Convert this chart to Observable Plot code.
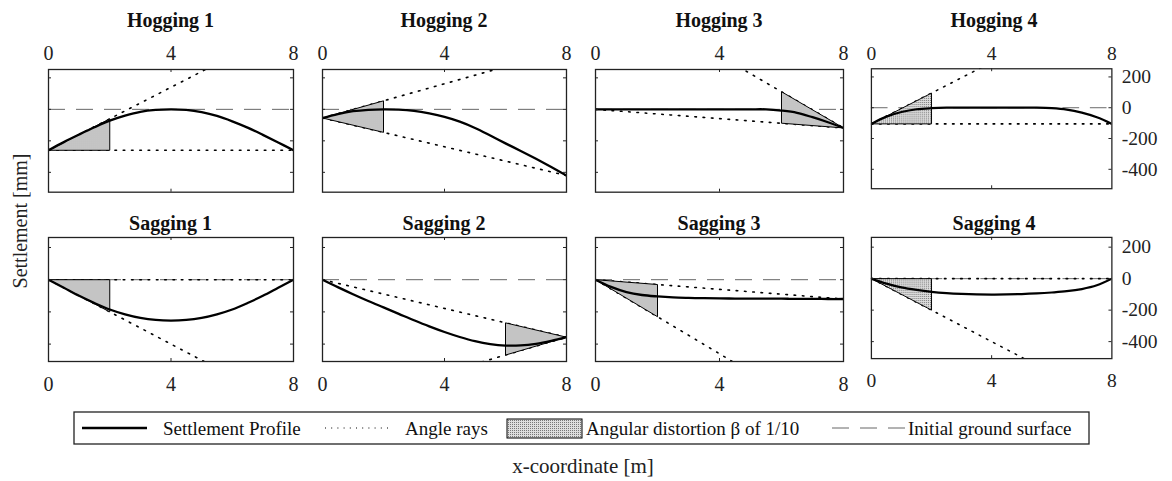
<!DOCTYPE html>
<html><head><meta charset="utf-8">
<script src="https://cdn.jsdelivr.net/npm/d3@7"></script>
<script src="https://cdn.jsdelivr.net/npm/@observablehq/plot@0.6"></script>
<style>
body{margin:0;background:#fff;}
#wrap{position:relative;width:1172px;height:481px;overflow:hidden;font-family:"Liberation Serif",serif;}
.panel{position:absolute;}
#overlay{position:absolute;left:0;top:0;pointer-events:none;}
</style></head><body>
<svg width="0" height="0" style="position:absolute">
<defs><pattern id="stipple" width="2" height="2" patternUnits="userSpaceOnUse">
<rect width="2" height="2" fill="#dedede"/><rect width="1" height="1" fill="#777"/></pattern></defs></svg>
<div id="wrap"></div>
<script>
// ---------- data ----------
const titles = ["Hogging 1","Hogging 2","Hogging 3","Hogging 4","Sagging 1","Sagging 2","Sagging 3","Sagging 4"];
const xTicks = [0, 4, 8];
const yTicks = [200, 0, -200, -400];
const xProfile = [0,0.5,1,1.5,2,2.5,3,3.5,4,4.5,5,5.5,6,6.5,7,7.5,8];
const profileH1 = [-260,-208,-160,-114,-72,-40,-16,-4,0,-4,-18,-42,-76,-116,-162,-210,-260];
const profileH2 = [-55,-30,-12,-3,0,-2,-10,-26,-48,-78,-118,-166,-216,-264,-314,-366,-420];
const profileH3 = [0,0,0,0,0,0,0,0,0,0,0,0,-8,-22,-50,-82,-118];
const profileH4 = [-105,-58,-28,-10,-3,0,0,0,0,0,0,0,-3,-12,-32,-62,-105];
const profileS1 = [0,-50,-100,-145,-185,-215,-237,-250,-254,-250,-237,-215,-185,-145,-100,-50,0];
const profileS2 = [0,-46,-90,-132,-172,-212,-252,-290,-325,-356,-382,-400,-409,-408,-398,-380,-357];
const profileS3 = [0,-45,-77,-95,-104,-110,-113,-115,-116,-117,-117,-118,-118,-119,-119,-120,-120];
const profileS4 = [0,-32,-56,-72,-84,-92,-97,-100,-101,-100,-98,-94,-88,-80,-66,-42,0];
// chord ray and rotated (beta = 1/10) ray, as [x, settlement] end points
const chords = [
  [[0,-260],[8,-260]], [[0,-55],[8,-420]], [[0,0],[8,-118]], [[0,-105],[8,-105]],
  [[0,0],[8,0]], [[0,0],[8,-357]], [[0,0],[8,-120]], [[0,0],[8,0]]
];
const rays = [
  [[0,-260],[8,540]], [[0,-55],[8,380]], [[0,800],[8,-118]], [[0,-105],[8,695]],
  [[0,0],[8,-800]], [[0,-800],[8,-357]], [[0,0],[8,-920]], [[0,0],[8,-800]]
];
const triangles = [
  [[0,-260],[2,-260],[2,-60]], [[0,-55],[2,-146],[2,54]], [[8,-118],[6,-88],[6,112]], [[0,-105],[2,-105],[2,95]],
  [[0,0],[2,0],[2,-200]], [[8,-357],[6,-268],[6,-468]], [[0,0],[2,-30],[2,-230]], [[0,0],[2,0],[2,-200]]
];
const legendLabels = ["Settlement Profile","Angle rays","Angular distortion \u03b2 of 1/10","Initial ground surface"];
const yLabel = "Settlement [mm]";
const xLabel = "x-coordinate [m]";
const profiles = [profileH1,profileH2,profileH3,profileH4,profileS1,profileS2,profileS3,profileS4];

// ---------- layout ----------
const frameLeft = [48, 322, 595, 871];
const frameRight = [293, 566, 843, 1117];
const frameTop = [69, 237];
const frameBottom = [191.7, 361];
const yDomains = [[-526, 253], [-508, 262]];
const font = "'Liberation Serif', 'Times New Roman', serif";
const wrap = document.getElementById("wrap");

const pt = d => d[0], pv = d => d[1];
const dotted = {x: pt, y: pv, stroke: "#000", strokeWidth: 1.6, strokeDasharray: "1.6,6.7", clip: true};

for (let i = 0; i < 8; i++) {
  const row = i < 4 ? 0 : 1, col = i % 4;
  const L = frameLeft[col], R = frameRight[col];
  const T = frameTop[row], B = frameBottom[row];
  const w = R - L, h = B - T;
  const mL = 4, mR = col === 3 ? 62 : 6, mT = row ? 4 : 32, mB = row ? 32 : 4;
  const data = xProfile.map((x, j) => ({x, s: profiles[i][j]}));
  const tri = triangles[i].concat([triangles[i][0]]);
  const marks = [
    Plot.ruleY([0], {y: d => d, stroke: "#666", strokeWidth: 1, strokeDasharray: "17,11"}),
    Plot.line(chords[i], dotted),
    Plot.line(rays[i], dotted),
    Plot.line(tri, {x: pt, y: pv, fill: "url(#stipple)", stroke: "#000", strokeWidth: 1, clip: true}),
    Plot.line(data, {x: "x", y: "s", curve: "catmull-rom", stroke: "#000", strokeWidth: 2.3, clip: true}),
    Plot.frame({stroke: "#222", strokeWidth: 1.3}),
    Plot.tickX(xTicks.slice(1, 2), {x: d => d, insetBottom: h - 3, stroke: "#222"}),
    Plot.tickX(xTicks.slice(1, 2), {x: d => d, insetTop: h - 3, stroke: "#222"}),
    Plot.tickY(yTicks, {y: d => d, insetRight: w - 3, stroke: "#222"}),
    Plot.tickY(yTicks, {y: d => d, insetLeft: w - 3, stroke: "#222"}),
    Plot.axisX({anchor: row ? "bottom" : "top", ticks: xTicks, tickSize: 0, tickPadding: row ? 15 : 9, label: null, fill: "#222"})
  ];
  if (col === 3) marks.push(Plot.axisY({anchor: "right", ticks: yTicks, tickSize: 0, tickPadding: 10, label: null, tickFormat: d => String(d), fill: "#222"}));
  const chart = Plot.plot({
    width: w + mL + mR, height: h + mT + mB,
    marginLeft: mL, marginRight: mR, marginTop: mT, marginBottom: mB,
    x: {domain: [0, 8]},
    y: {domain: yDomains[row], axis: col === 3 ? undefined : null},
    style: {fontFamily: font, fontSize: "20px", color: "#222", background: "transparent", overflow: "visible"},
    marks
  });
  const div = document.createElement("div");
  div.className = "panel";
  div.style.left = (L - mL) + "px";
  div.style.top = (T - mT) + "px";
  div.appendChild(chart);
  wrap.appendChild(div);
}

// ---------- overlay: titles, axis labels, legend ----------
const NS = "http://www.w3.org/2000/svg";
const ov = document.createElementNS(NS, "svg");
ov.setAttribute("id", "overlay");
ov.setAttribute("width", 1172); ov.setAttribute("height", 481);
ov.style.fontFamily = font;
wrap.appendChild(ov);
function el(tag, attrs, text) {
  const e = document.createElementNS(NS, tag);
  for (const k in attrs) e.setAttribute(k, attrs[k]);
  if (text != null) e.textContent = text;
  ov.appendChild(e);
  return e;
}
titles.forEach((t, i) => {
  const row = i < 4 ? 0 : 1, col = i % 4;
  el("text", {x: (frameLeft[col] + frameRight[col]) / 2, y: row ? 230 : 27, "text-anchor": "middle",
    "font-weight": "bold", "font-size": 20, fill: "#111"}, t);
});
el("text", {transform: "translate(27,221) rotate(-90)", "text-anchor": "middle", "font-size": 20, fill: "#222"}, yLabel);
el("text", {x: 583, y: 473, "text-anchor": "middle", "font-size": 21, fill: "#222"}, xLabel);
// legend
el("rect", {x: 74, y: 412, width: 1015, height: 32, fill: "#fff", stroke: "#222", "stroke-width": 1.3});
el("line", {x1: 82, x2: 147, y1: 428, y2: 428, stroke: "#000", "stroke-width": 2.3});
el("line", {x1: 325, x2: 388, y1: 428, y2: 428, stroke: "#000", "stroke-width": 1, "stroke-dasharray": "1,5.2"});
el("rect", {x: 507, y: 419, width: 75, height: 19, fill: "url(#stipple)", stroke: "#000", "stroke-width": 1});
el("line", {x1: 832, x2: 905, y1: 428, y2: 428, stroke: "#666", "stroke-width": 1, "stroke-dasharray": "17,11"});
[163, 405, 586, 908].forEach((x, k) => el("text", {x, y: 435, "font-size": 19, fill: "#111"}, legendLabels[k]));
</script>
</body></html>
